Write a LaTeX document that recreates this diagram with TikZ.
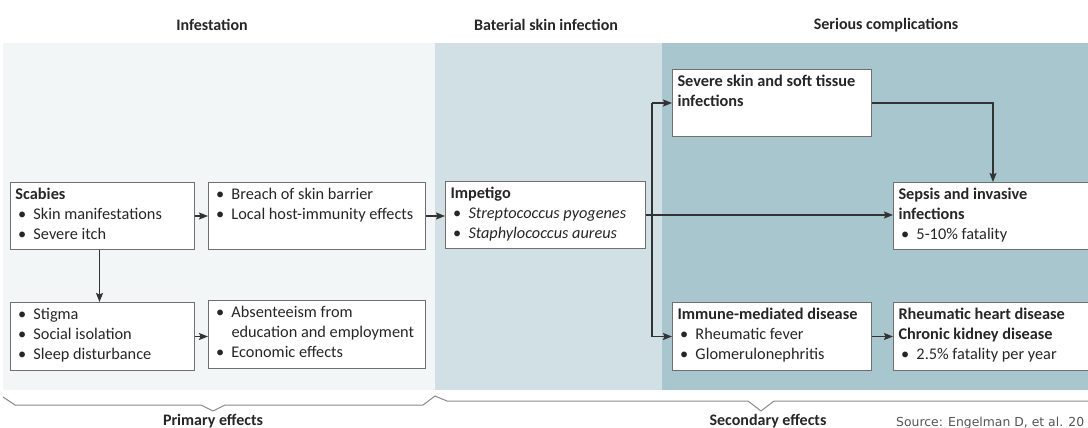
\documentclass[tikz,border=0pt]{standalone}
\usepackage{fontspec}
\setmainfont{Carlito}
\newfontfamily\srcfont{DejaVu Sans}
\usetikzlibrary{arrows.meta}
\definecolor{pone}{HTML}{F2F6F7}
\definecolor{ptwo}{HTML}{D0E0E5}
\definecolor{pthree}{HTML}{A8C6CE}
\definecolor{boxline}{HTML}{707070}
\definecolor{arrowcol}{HTML}{333333}
\definecolor{txt}{HTML}{262626}
\definecolor{bracecol}{HTML}{8A8A8A}
\definecolor{srccol}{HTML}{555555}
\newcommand{\itm}{\makebox[18pt][l]{\hspace{2.5pt}\textbullet}}
\newcommand{\indt}{\hspace*{18pt}}
\newcommand{\boxcontent}[3]{\parbox[c][#2][t]{#1}{\raggedright\fontsize{16.3}{20}\selectfont\strut #3}}
\tikzset{
  box/.style={draw=boxline, line width=1pt, fill=white, anchor=north west,
    inner xsep=5pt, inner ysep=3pt, text=txt},
  hdr/.style={font=\fontsize{16}{18}\selectfont\bfseries, text=txt},
  arr/.style={draw=arrowcol, line width=1.1pt, -{Stealth[length=9pt,width=7pt,inset=1.5pt]}},
  ln/.style={draw=arrowcol, line width=1.1pt},
  bracepath/.style={draw=bracecol, line width=1pt, line join=round},
}
\begin{document}
\begin{tikzpicture}[x=1pt,y=-1pt]
\useasboundingbox (0,0) rectangle (1088,428);
\clip (0,0) rectangle (1088,428);
\fill[white] (0,0) rectangle (1088,428);
% panels
\fill[pone] (3,43) rectangle (435,390);
\fill[ptwo] (435,43) rectangle (662,390);
\fill[pthree] (662,43) rectangle (1090,390);
% headers
\node[hdr] (h1) at (212,25) {Infestation};
\node[hdr] (h2) at (546,25) {Baterial skin infection};
\node[hdr] (h3) at (886,25) {Serious complications};
% boxes
\node[box] (scab) at (10,182) {\boxcontent{174pt}{61pt}{\textbf{Scabies}\\\itm Skin manifestations\\\itm Severe itch}};
\node[box] (brch) at (208,182) {\boxcontent{207pt}{61pt}{\itm Breach of skin barrier\\\itm Local host-immunity effects}};
\node[box] (stig) at (10,302) {\boxcontent{174pt}{62pt}{\itm Stigma\\\itm Social isolation\\\itm Sleep disturbance}};
\node[box] (abse) at (208,300) {\boxcontent{207pt}{62pt}{\itm Absenteeism from\\\indt education and employment\\\itm Economic effects}};
\node[box] (imp) at (445,181) {\boxcontent{190pt}{61pt}{\textbf{Impetigo}\\\itm \textit{Streptococcus pyogenes}\\\itm \textit{Staphylococcus aureus}}};
\node[box] (sev) at (672,69) {\boxcontent{189pt}{61pt}{\textbf{Severe skin and soft tissue}\\\textbf{infections}}};
\node[box] (seps) at (893,182) {\boxcontent{200pt}{61pt}{\textbf{Sepsis and invasive}\\\textbf{infections}\\\itm 5-10\% fatality}};
\node[box] (imm) at (672,302) {\boxcontent{189pt}{62pt}{\textbf{Immune-mediated disease}\\\itm Rheumatic fever\\\itm Glomerulonephritis}};
\node[box] (rheu) at (893,302) {\boxcontent{200pt}{62pt}{\textbf{Rheumatic heart disease}\\\textbf{Chronic kidney disease}\\\itm 2.5\% fatality per year}};
% connectors
\draw[arr] (scab.east) -- (scab.east -| brch.west);
\draw[arr] (brch.east) -- (brch.east -| imp.west);
\draw[arr] ([xshift=-3pt]scab.south) -- ([xshift=-3pt]scab.south |- stig.north);
\draw[arr] (stig.east) -- (stig.east -| abse.west);
\draw[arr] (imp.east) -- (imp.east -| seps.west);
\coordinate (jn) at (652,214);
\draw[ln] (jn |- sev.west) -- (jn |- imm.west);
\draw[arr] (jn |- sev.west) -- (sev.west);
\draw[arr] (jn |- imm.west) -- (imm.west);
\coordinate (drop) at ([xshift=100pt]seps.north west);
\draw[arr] (sev.east) -| (drop);
\draw[arr] (imm.east) -- (imm.east -| rheu.west);
% braces
\draw[bracepath] (3,397) -- (15,405) -- (201,405) -- (213,411) -- (225,405) -- (423,405) -- (435,396);
\draw[bracepath] (435,396) -- (447,401) -- (748,401) -- (761,411) -- (774,401) -- (1092,401);
\node[hdr] (pe) at (213,421) {Primary effects};
\node[hdr] (se) at (768,421) {Secondary effects};
\node[anchor=base west, font=\srcfont\fontsize{12.4}{14}\selectfont, text=srccol, inner sep=0pt] (src) at (896,426) {Source: Engelman D, et al. 20};
\end{tikzpicture}
\end{document}
